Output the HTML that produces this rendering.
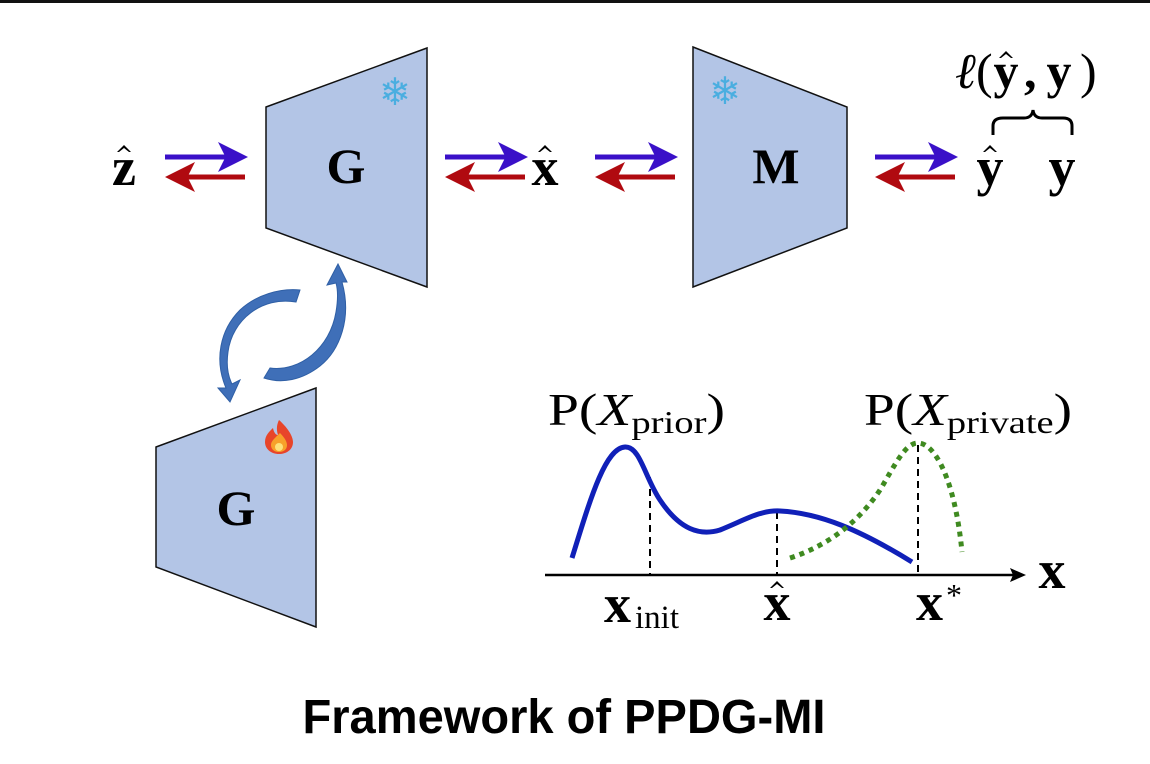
<!DOCTYPE html>
<html><head><meta charset="utf-8"><style>
html,body{margin:0;padding:0;background:#fff;}
svg{display:block}
.m{font-family:"Liberation Serif",serif;font-weight:bold;fill:#000}
.r{font-family:"Liberation Serif",serif;fill:#000}
</style></head><body>
<svg width="1150" height="764" viewBox="0 0 1150 764" xmlns="http://www.w3.org/2000/svg">
<rect x="0" y="0" width="1150" height="3" fill="#111"/>
<defs>
<marker id="hb" markerWidth="6" markerHeight="6" refX="5" refY="3" orient="auto" markerUnits="strokeWidth"><path d="M0,0 L6,3 L0,6 L1.5,3 Z" fill="#3a10c8"/></marker>
<marker id="hr" markerWidth="6" markerHeight="6" refX="5" refY="3" orient="auto" markerUnits="strokeWidth"><path d="M0,0 L6,3 L0,6 L1.5,3 Z" fill="#b00a10"/></marker>
<path id="hat" d="M-7,6 L0,-1 L7,6 L5,6 L0,2 L-5,6 Z" fill="#000"/>
</defs>
<!-- trapezoids -->
<polygon points="266,107 427,48 427,287 266,228" fill="#b3c5e6" stroke="#111" stroke-width="1.5"/>
<polygon points="693,47 847,107 847,228 693,287" fill="#b3c5e6" stroke="#111" stroke-width="1.5"/>
<polygon points="156,447 316,388 316,627 156,567" fill="#b3c5e6" stroke="#111" stroke-width="1.5"/>
<text class="m" x="346" y="183" font-size="50" text-anchor="middle">G</text>
<text class="m" x="776" y="183" font-size="50" text-anchor="middle">M</text>
<text class="m" x="236" y="525" font-size="50" text-anchor="middle">G</text>
<text x="395" y="105" font-size="38" fill="#4aaee0" text-anchor="middle" font-family="DejaVu Sans">❄</text>
<text x="725" y="104" font-size="38" fill="#4aaee0" text-anchor="middle" font-family="DejaVu Sans">❄</text>
<!-- fire -->
<g transform="translate(279,437)">
<path d="M0,-17 C10,-8 14,0 14,5 C14,13 7,17 0,17 C-8,17 -14,12 -14,5 C-14,-2 -9,-6 -6,-9 C-5,-4 -3,-2 -1,-2 C-3,-8 -2,-13 0,-17 Z" fill="#e8452a"/>
<path d="M1,-4 C6,1 8,5 8,8 C8,13 4,15 0,15 C-5,15 -8,12 -8,8 C-8,4 -4,1 1,-4 Z" fill="#f7a02a"/>
<ellipse cx="0" cy="10" rx="4" ry="4" fill="#fde07a"/>
</g>
<!-- arrows -->
<g stroke-width="5" fill="none">
<line x1="165" y1="157" x2="243" y2="157" stroke="#3a10c8" marker-end="url(#hb)"/>
<line x1="245" y1="177" x2="170" y2="177" stroke="#b00a10" marker-end="url(#hr)"/>
<line x1="445" y1="157" x2="523" y2="157" stroke="#3a10c8" marker-end="url(#hb)"/>
<line x1="525" y1="177" x2="450" y2="177" stroke="#b00a10" marker-end="url(#hr)"/>
<line x1="595" y1="157" x2="673" y2="157" stroke="#3a10c8" marker-end="url(#hb)"/>
<line x1="675" y1="177" x2="600" y2="177" stroke="#b00a10" marker-end="url(#hr)"/>
<line x1="875" y1="157" x2="953" y2="157" stroke="#3a10c8" marker-end="url(#hb)"/>
<line x1="955" y1="177" x2="880" y2="177" stroke="#b00a10" marker-end="url(#hr)"/>
</g>
<!-- labels -->
<text class="m" x="124" y="185" font-size="54" text-anchor="middle">z</text>
<use href="#hat" x="124" y="146"/>
<text class="m" x="545" y="185" font-size="54" text-anchor="middle">x</text>
<use href="#hat" x="545" y="146"/>
<text class="m" x="990" y="185" font-size="54" text-anchor="middle">y</text>
<use href="#hat" x="990" y="146"/>
<text class="m" x="1062" y="185" font-size="54" text-anchor="middle">y</text>
<text class="r" x="955" y="88" font-size="50" font-style="italic">ℓ</text>
<text class="r" x="976" y="88" font-size="50">(</text>
<text class="m" x="1006" y="88" font-size="50" text-anchor="middle">y</text>
<use href="#hat" x="1006" y="52"/>
<text class="m" x="1024" y="88" font-size="50">,</text>
<text class="m" x="1059" y="88" font-size="50" text-anchor="middle">y</text>
<text class="r" x="1080" y="88" font-size="50">)</text>
<path d="M993,135 L993,126 Q993,118 1003,118 L1024,118 Q1032,118 1033,110 Q1034,118 1042,118 L1063,118 Q1072,118 1072,126 L1072,135" fill="none" stroke="#000" stroke-width="3"/>
<!-- circular arrows -->
<g fill="#3f6fb8" stroke="#2f5fa5" stroke-width="1">
<path d="M300,290 L296,302 C262,296 232,320 228,352 C226,366 228,376 232,384 L240,380 L230,402 L218,388 L226,388 C214,360 220,330 240,310 C256,295 280,288 300,290 Z"/>
<path d="M264,378 L270,368 C300,372 330,348 336,312 C338,300 338,290 336,283 L327,285 L338,264 L347,282 L342,282 C352,318 340,350 320,366 C302,380 282,384 264,378 Z"/>
</g>
<!-- graph -->
<line x1="545" y1="575" x2="1015" y2="575" stroke="#000" stroke-width="2.5"/>
<path d="M1026,575 L1010,568 L1013,575 L1010,582 Z" fill="#000"/>
<g stroke="#000" stroke-width="2" stroke-dasharray="7,5">
<line x1="650" y1="477" x2="650" y2="575"/>
<line x1="777" y1="512" x2="777" y2="575"/>
<line x1="918" y1="445" x2="918" y2="575"/>
</g>
<path d="M572,558 C590,500 605,448 625,447 C640,446 645,478 660,500 C680,530 700,536 720,530 C745,520 760,510 780,511 C820,513 860,530 912,562" fill="none" stroke="#1020b8" stroke-width="5"/>
<path d="M790,558 C830,545 860,520 880,490 C895,465 905,443 918,443 C935,443 955,480 962,552" fill="none" stroke="#3f8a20" stroke-width="5" stroke-dasharray="5,5"/>
<text class="r" x="548" y="425" font-size="46" textLength="177" lengthAdjust="spacingAndGlyphs">P(<tspan font-style="italic">X</tspan><tspan font-size="32" dy="8">prior</tspan><tspan dy="-8">)</tspan></text>
<text class="r" x="864" y="425" font-size="46" textLength="208" lengthAdjust="spacingAndGlyphs">P(<tspan font-style="italic">X</tspan><tspan font-size="32" dy="8">private</tspan><tspan dy="-8">)</tspan></text>
<text class="m" x="604" y="622" font-size="54">x</text>
<text class="r" x="635" y="628" font-size="33">init</text>
<text class="m" x="777" y="620" font-size="54" text-anchor="middle">x</text>
<use href="#hat" x="777" y="582"/>
<text class="m" x="916" y="620" font-size="54">x</text>
<text class="r" x="946" y="606" font-size="32">*</text>
<text class="m" x="1052" y="588" font-size="54" text-anchor="middle">x</text>
<text x="564" y="733" font-family="Liberation Sans,sans-serif" font-weight="bold" font-size="48" text-anchor="middle" textLength="523" lengthAdjust="spacingAndGlyphs" fill="#000">Framework of PPDG-MI</text>
</svg>
</body></html>
